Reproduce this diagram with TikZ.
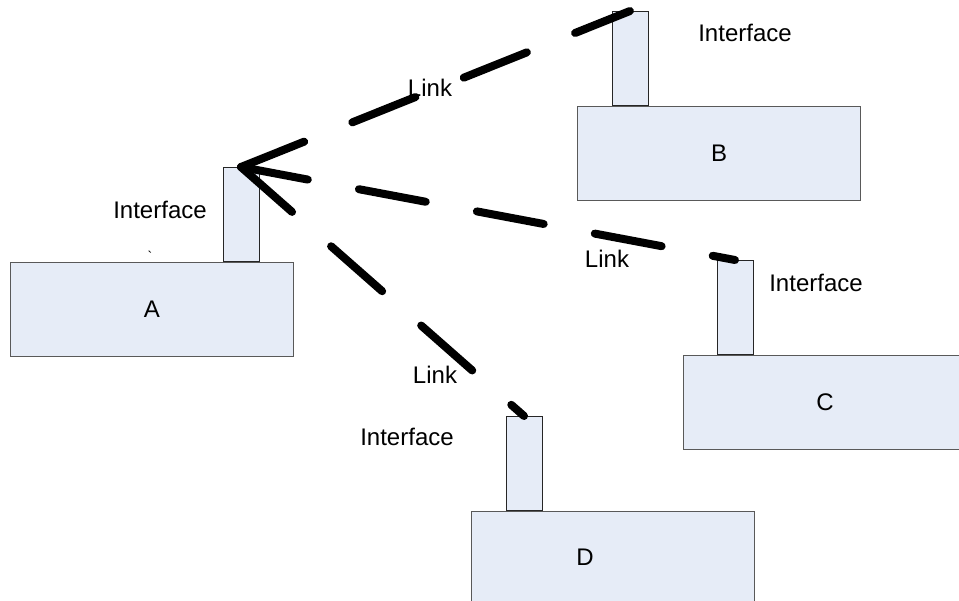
\documentclass[tikz,border=0pt]{standalone}
\usepackage{fontspec}
\setmainfont{Liberation Sans}
\usetikzlibrary{positioning}
\definecolor{boxfill}{HTML}{E6ECF7}
\tikzset{
  unitbox/.style={draw=black!65, fill=boxfill, line width=1pt, minimum width=283pt, minimum height=94pt, inner sep=0pt},
  ifstub/.style={draw=black!85, fill=boxfill, line width=1pt, minimum width=36pt, minimum height=94pt, inner sep=0pt},
  link/.style={line width=8pt, line cap=round, dash pattern=on 68pt off 52pt}
}
\begin{document}
\begin{tikzpicture}[x=1pt, y=-1pt, font=\fontsize{24}{29}\selectfont]
    \clip (0,0) rectangle (959,601);

    % units
    \node[unitbox, anchor=north west] (boxA) at (10,262) {A};
    \node[unitbox, anchor=north west] (boxB) at (577,106) {B};
    \node[unitbox, anchor=north west] (boxC) at (683,355) {C};
    \node[unitbox, anchor=north west] (boxD) at (471,511) {};
    \node (labD) at (585,557) {D};

    % interfaces
    \node[ifstub, above=0pt of boxA.north west, xshift=231pt] (ifA) {};
    \node[ifstub, above=0pt of boxB.north west, xshift=53pt] (ifB) {};
    \node[ifstub, above=0pt of boxC.north west, xshift=52pt] (ifC) {};
    \node[ifstub, above=0pt of boxD.north west, xshift=53pt] (ifD) {};

    % links
    \draw[link] (ifA.north) -- (ifB.north);
    \draw[link] (ifA.north) -- (ifC.north);
    \draw[link] (ifA.north) -- (ifD.north);

    \node (linkB) at (430,88) {Link};
    \node (linkC) at (607,259) {Link};
    \node (linkD) at (435,375) {Link};

    \node (nameA) at (160,210) {Interface};
    \node (nameB) at (745,33) {Interface};
    \node (nameC) at (816,283) {Interface};
    \node (nameD) at (407,437) {Interface};
    \node[font=\fontsize{14}{16}\selectfont] (tick) at (150,256) {\textasciigrave};
\end{tikzpicture}
\end{document}
